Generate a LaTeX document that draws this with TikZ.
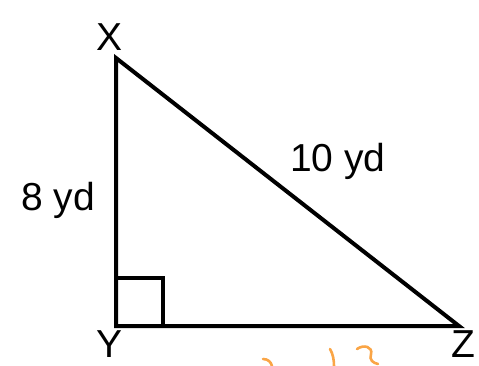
\documentclass[tikz,border=0pt]{standalone}
\usepackage{fontspec}
\setmainfont{Liberation Sans}
\usetikzlibrary{calc}
\definecolor{penorange}{RGB}{250,165,70}

\begin{document}
\begin{tikzpicture}[x=1pt, y=-1pt, every node/.style={font=\fontsize{39}{42}\selectfont, inner sep=0pt}, side/.style={line width=4pt, line join=miter}, scribble/.style={penorange, line width=2.6pt, line cap=round}]
  \useasboundingbox (0,0) rectangle (479,365);
  \coordinate (X) at (116,58);
  \coordinate (Y) at (116,326);
  \coordinate (Z) at (459,326);
  \draw[side] (X) -- (Y) -- (Z) -- cycle;
  \draw[line width=3.4pt] ($(Y)+(0,-48)$) -- ($(Y)+(47,-48)$) -- ($(Y)+(47,0)$);
  \node (labelX) at (110,37) {X};
  \node (labelY) at (110,344) {Y};
  \node (labelZ) at (463,344) {Z};
  \node (legXY) at (58,200) {8 yd};
  \node (legXZ) at (338,161) {10 yd};
  % pen marks under YZ
  \draw[scribble] (263,359) .. controls (268,359) and (271,362) .. (272,366);
  \draw[scribble] (330,349) .. controls (333,354) and (334,360) .. (334,366);
  \draw[scribble] (357,349) .. controls (364,344) and (373,347) .. (371,354) .. controls (369,360) and (373,363) .. (378,364);
\end{tikzpicture}
\end{document}
